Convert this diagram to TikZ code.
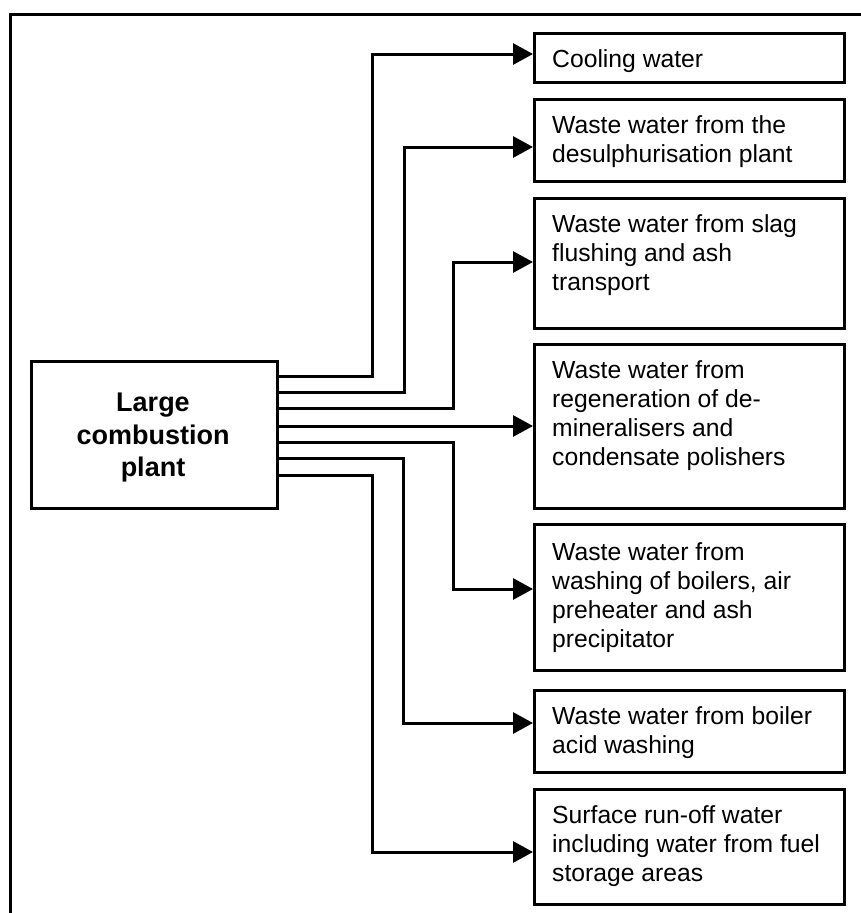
\documentclass[tikz,border=0pt]{standalone}
\usepackage{fontspec}
\setmainfont{Liberation Sans}
\usetikzlibrary{arrows.meta}
\begin{document}
\begin{tikzpicture}[x=1pt,y=-1pt,
  box/.style={draw, line width=3pt, inner sep=0pt, anchor=north west, minimum width=310pt},
  txt/.style={inner sep=0pt, anchor=north west, align=left, font=\fontsize{24.7pt}{29pt}\selectfont},
  conn/.style={line width=3pt, -{Triangle[length=20pt,width=21pt]}},
  frameline/.style={line width=3pt}]
\useasboundingbox (0,0) rectangle (861,913);
\draw[frameline] (10,913) -- (10,14) -- (861,14);

% source
\node[draw, line width=3pt, inner sep=0pt, anchor=north west, minimum width=246pt, minimum height=147pt] (main) at (30,360) {};
\node[inner sep=0pt, anchor=north, align=center, font=\fontsize{27pt}{32.5pt}\selectfont\bfseries] (maintext) at (153,393) {Large\\combustion\\plant};

% targets
\node[box, minimum height=49pt] (b1) at (533,32) {};
\node[box, minimum height=82pt] (b2) at (533,98) {};
\node[box, minimum height=130pt] (b3) at (533,197) {};
\node[box, minimum height=164pt] (b4) at (533,343) {};
\node[box, minimum height=146pt] (b5) at (533,523) {};
\node[box, minimum height=82pt] (b6) at (533,689) {};
\node[box, minimum height=115pt] (b7) at (533,788) {};

\node[txt] (t1) at (552,49.5) {Cooling water};
\node[txt] (t2) at (552,115.5) {Waste water from the\\desulphurisation plant};
\node[txt] (t3) at (552,214.5) {Waste water from slag\\flushing and ash\\transport};
\node[txt] (t4) at (552,360.5) {Waste water from\\regeneration of de-\\mineralisers and\\condensate polishers};
\node[txt] (t5) at (552,542) {Waste water from\\washing of boilers, air\\preheater and ash\\precipitator};
\node[txt] (t6) at (552,706) {Waste water from boiler\\acid washing};
\node[txt] (t7) at (552,805) {Surface run-off water\\including water from fuel\\storage areas};

% connectors
\draw[conn] (main.east |- 0,376) -| (372,54) -- (b1.west |- 0,54);
\draw[conn] (main.east |- 0,392) -| (404,147) -- (b2.west |- 0,147);
\draw[conn] (main.east |- 0,408.5) -| (453,262) -- (b3.west |- 0,262);
\draw[conn] (main.east |- 0,426) -- (b4.west |- 0,426);
\draw[conn] (main.east |- 0,442) -| (453,589) -- (b5.west |- 0,589);
\draw[conn] (main.east |- 0,458) -| (403,723) -- (b6.west |- 0,723);
\draw[conn] (main.east |- 0,475) -| (372,852) -- (b7.west |- 0,852);
\end{tikzpicture}
\end{document}
